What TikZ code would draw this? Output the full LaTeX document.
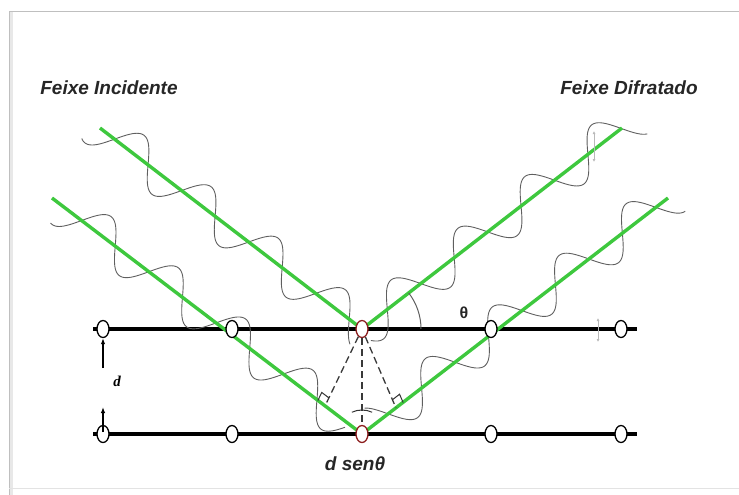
\documentclass[tikz,border=0pt]{standalone}
\usepackage{fontspec}
\setmainfont{Liberation Sans}
\newfontfamily\serifit{Liberation Serif}
\usetikzlibrary{shapes.geometric,calc,arrows.meta}

\definecolor{beamgreen}{RGB}{62,200,62}
\definecolor{wavegray}{RGB}{95,95,95}
\definecolor{atomred}{RGB}{140,30,30}

\begin{document}
\begin{tikzpicture}[x=1pt,y=-1pt,
  lattice/.style={line width=3.2pt,black},
  beam/.style={line width=3.4pt,beamgreen},
  wave/.style={wavegray,line width=0.9pt},
  atom/.style={ellipse,draw=black,line width=1.3pt,fill=white,
    minimum width=12pt,minimum height=17pt,inner sep=0pt},
  midatom/.style={atom,draw=atomred},
  guide/.style={gray!45!black,line width=1.3pt,dash pattern=on 7pt off 4pt},
  rightmark/.style={gray!40!black,line width=1pt},
  dimarrow/.style={line width=1.2pt,-{Latex[length=6pt,width=4.5pt]}},
  handle/.style={gray!55,line width=0.6pt,
    {Latex[length=3pt,width=3pt]}-{Latex[length=3pt,width=3pt]}},
  title/.style={font=\fontsize{19}{21}\selectfont\bfseries\itshape,text=black!85}
]
\useasboundingbox (0,0) rectangle (739,495);

% page frame
\fill[gray!18] (9,11) rectangle (13,495);
\draw[gray!50,line width=0.8pt] (9,495) -- (9,11) -- (739,11);
\draw[gray!22,line width=0.8pt] (9,488) -- (739,488);

% headings
\node[title] (inc) at (109,88) {Feixe Incidente};
\node[title] (dif) at (629,88) {Feixe Difratado};

% lattice planes
\coordinate (L1w) at (93,329);  \coordinate (L1e) at (637,329);
\coordinate (L2w) at (93,434);  \coordinate (L2e) at (637,434);
\draw[lattice] (L1w) -- (L1e);
\draw[lattice] (L2w) -- (L2e);

% beam end points
\coordinate (I1s) at (100,128);
\coordinate (I2s) at (52,198);
\coordinate (D1e) at (622,128);
\coordinate (D2e) at (668,198);
\coordinate (P1) at (362,329);
\coordinate (P2) at (362,434);

% waves riding on the beams
\draw[wave] plot[domain=-8:330,samples=260,variable=\s]
  ({100+0.7935*\s+21*0.6087*sin(4.26*(\s-18.3))},
   {128+0.6087*\s-21*0.7935*sin(4.26*(\s-18.3))});
\draw[wave] plot[domain=14:372,samples=260,variable=\s]
  ({52+0.7957*\s+21*0.6057*sin(4.26*(\s-37.2))},
   {198+0.6057*\s-21*0.7957*sin(4.26*(\s-37.2))});
\draw[wave] plot[domain=0:345,samples=260,variable=\s]
  ({362+0.7912*\s+21*0.6117*sin(4.26*(\s+10.25))},
   {329-0.6117*\s+21*0.7912*sin(4.26*(\s+10.25))});
\draw[wave] plot[domain=18:392,samples=260,variable=\s]
  ({362+0.7919*\s+21*0.6108*sin(4.26*(\s-33))},
   {434-0.6108*\s+21*0.7919*sin(4.26*(\s-33))});

% incident and diffracted beams
\draw[beam] (I1s) -- (P1);
\draw[beam] (I2s) -- (P2);
\draw[beam] (P1) -- (D1e);
\draw[beam] (P2) -- (D2e);

% theta arc
\draw[wavegray,line width=1pt] ($(P1)+(0:59)$) arc[start angle=0,end angle=-37.7,radius=59];
\node[font=\fontsize{16}{16}\selectfont\bfseries,text=black!85] (th) at (464,313) {θ};

% atoms
\foreach \x/\n in {103/1,232/2,491/4,621/5}{
  \node[atom] (a1\n) at (\x,329) {};
  \node[atom] (a2\n) at (\x,434) {};
}
\node[midatom] (a13) at (P1) {};
\node[midatom] (a23) at (P2) {};

% path difference construction
\coordinate (F1) at (325,406);
\coordinate (F2) at (396,408);
\draw[guide] (a13) -- (F1);
\draw[guide] (a13) -- (F2);
\draw[guide] (a13) -- (a23);
\coordinate (F1a) at ($(F1)!9pt!(I2s)$);
\coordinate (F1b) at ($(F1)!9pt!(a13.center)$);
\draw[rightmark] (F1a) -- ($(F1a)+(F1b)-(F1)$) -- (F1b);
\coordinate (F2a) at ($(F2)!9pt!(D2e)$);
\coordinate (F2b) at ($(F2)!9pt!(a13.center)$);
\draw[rightmark] (F2a) -- ($(F2a)+(F2b)-(F2)$) -- (F2b);
\draw[rightmark] ($(P2)+(-65:24)$) arc[start angle=-65,end angle=-115,radius=24];

% spacing d
\coordinate (dT) at (103,368);
\coordinate (dB) at (103,432);
\draw[dimarrow] (dT) -- (a11);
\draw[dimarrow] (dB) -- (103,407);
\node[font=\serifit\bfseries\itshape\fontsize{15}{15}\selectfont] (dlab) at (117,381) {d};

% path difference label
\node[font=\fontsize{19}{19}\selectfont\bfseries\itshape,text=black!85] (pd) at (355,464) {d senθ};

% faint resize handles
\coordinate (h1a) at (594,131); \coordinate (h1b) at (594,162);
\coordinate (h2a) at (598,318); \coordinate (h2b) at (598,342);
\draw[handle] (h1a) -- (h1b);
\draw[handle] (h2a) -- (h2b);
\end{tikzpicture}
\end{document}
